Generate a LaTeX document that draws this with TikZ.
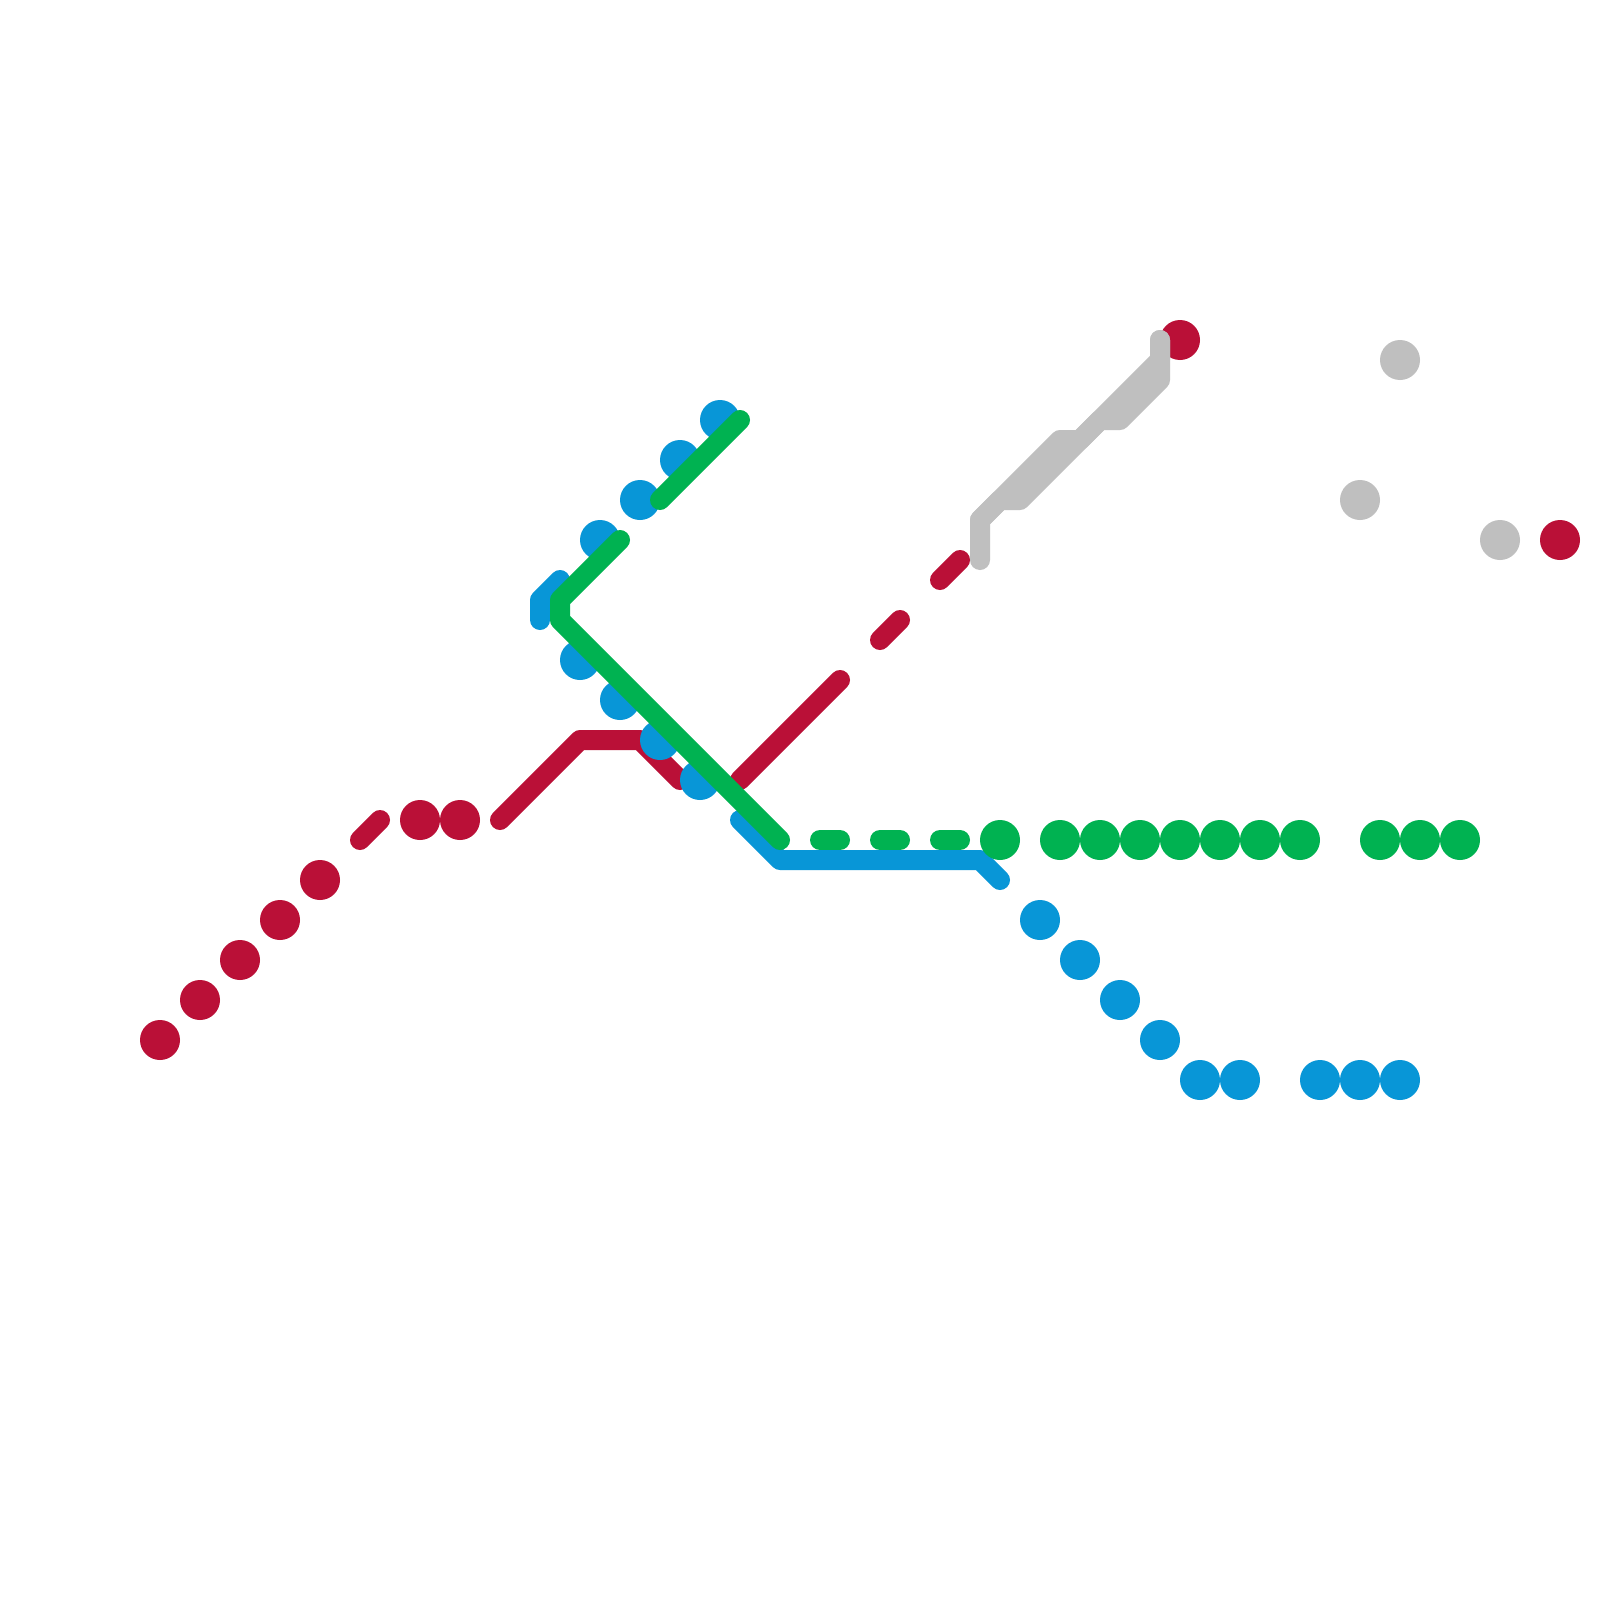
\documentclass[tikz,border=0pt]{standalone}
\definecolor{lred}{HTML}{BA1037}
\definecolor{lblue}{HTML}{0896D7}
\definecolor{lgreen}{HTML}{00B251}
\definecolor{lgray}{HTML}{BFBFBF}
\tikzset{
  stn/.style={circle,draw=none,fill=#1,inner sep=0pt,minimum size=40pt},
  route/.style={draw=#1,line width=20pt,line cap=round,line join=round},
}
\begin{document}
\begin{tikzpicture}[x=1pt,y=-1pt]
\useasboundingbox (0,0) rectangle (1600,1600);
\fill[white] (0,0) rectangle (1600,1600);
% named line points
\foreach \n/\x/\y in {
 ra/360/840, rb/380/820, rc/500/820, rd/580/740, re/640/740, rf/680/780,
 rg/740/780, rh/840/680, ri/880/640, rj/900/620, rk/940/580, rl/960/560,
 ya/980/560, yb/980/520, yc/1060/440, yd/1080/440, ye/1160/360, yf/1160/340,
 yg/1000/500, yh/1020/500, yi/1100/420, yj/1120/420, yk/1160/380,
 ba/540/620, bb/540/600, bc/560/580, bd/740/820, be/780/860, bf/980/860, bg/1000/880,
 ga/620/540, gb/560/600, gc/560/620, gd/780/840, ge/660/500, gf/740/420,
 gg/820/840, gh/840/840, gi/880/840, gj/900/840, gk/940/840, gl/960/840}
 {\coordinate (\n) at (\x,\y);}
% red stations
\foreach \i/\x/\y in {1/160/1040,2/200/1000,3/240/960,4/280/920,5/320/880,6/420/820,7/460/820,8/1180/340,9/1560/540}
 {\node[stn=lred] (R\i) at (\x,\y) {};}
% red lines
\draw[route=lred] (ra) -- (rb);
\draw[route=lred] (rc) -- (rd) -- (re) -- (rf);
\draw[route=lred] (rg) -- (rh);
\draw[route=lred] (ri) -- (rj);
\draw[route=lred] (rk) -- (rl);
% gray stations and lines
\foreach \i/\x/\y in {1/1400/360,2/1360/500,3/1500/540}
 {\node[stn=lgray] (Y\i) at (\x,\y) {};}
\draw[route=lgray] (ya) -- (yb) -- (yc) -- (yd) -- (ye) -- (yf);
\draw[route=lgray] (yb) -- (yg) -- (yh) -- (yi) -- (yj) -- (yk) -- (yf);
% blue stations and lines
\foreach \i/\x/\y in {1/720/420,2/680/460,3/640/500,4/600/540,5/580/660,6/620/700,7/660/740,8/700/780,
 9/1040/920,10/1080/960,11/1120/1000,12/1160/1040,13/1200/1080,14/1240/1080,15/1320/1080,16/1360/1080,17/1400/1080}
 {\node[stn=lblue] (B\i) at (\x,\y) {};}
\draw[route=lblue] (ba) -- (bb) -- (bc);
\draw[route=lblue] (bd) -- (be) -- (bf) -- (bg);
% green stations and lines
\foreach \i/\x in {1/1000,2/1060,3/1100,4/1140,5/1180,6/1220,7/1260,8/1300,9/1380,10/1420,11/1460}
 {\node[stn=lgreen] (G\i) at (\x,840) {};}
\draw[route=lgreen] (ga) -- (gb) -- (gc) -- (gd);
\draw[route=lgreen] (ge) -- (gf);
\draw[route=lgreen] (gg) -- (gh);
\draw[route=lgreen] (gi) -- (gj);
\draw[route=lgreen] (gk) -- (gl);
\end{tikzpicture}
\end{document}
